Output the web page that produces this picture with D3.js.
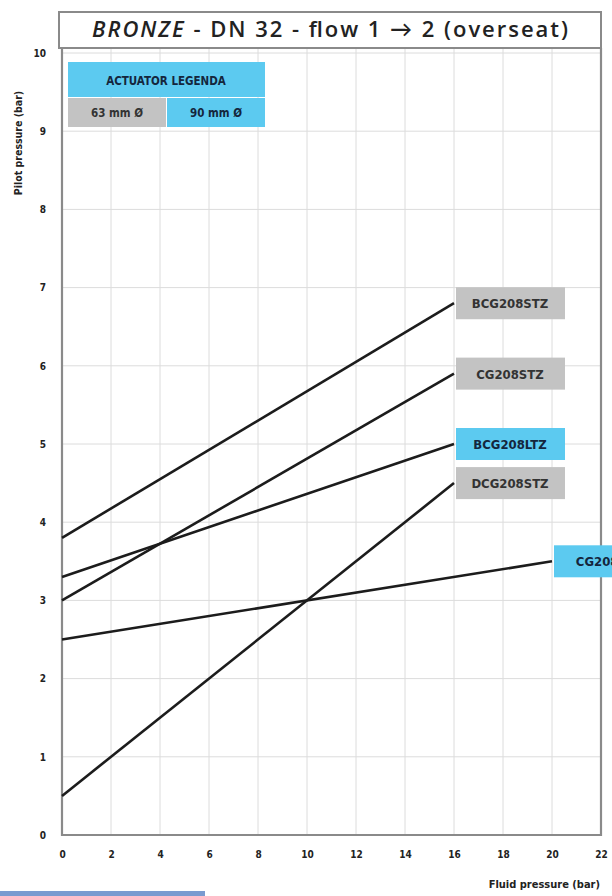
<!DOCTYPE html>
<html>
<head>
<meta charset="utf-8">
<script src="https://cdn.jsdelivr.net/npm/d3@7"></script>
<style>
  html, body { margin: 0; padding: 0; background: #fff; }
  svg { display: block; }
</style>
</head>
<body>
<svg id="chart" width="612" height="896"></svg>
<script>
// ---- data ----
const titleText = "BRONZE";
const titleRest = " - DN 32 - flow 1 \u2192 2 (overseat)";
const xLabel = "Fluid pressure (bar)";
const yLabel = "Pilot pressure (bar)";
const xTicks = [0, 2, 4, 6, 8, 10, 12, 14, 16, 18, 20, 22];
const yTicks = [0, 1, 2, 3, 4, 5, 6, 7, 8, 9, 10];
const seriesNames = ["BCG208STZ", "CG208STZ", "BCG208LTZ", "DCG208STZ", "CG208LTZ"];
const startFluid = [0, 0, 0, 0, 0];
const startPilot = [3.8, 3.0, 3.3, 0.5, 2.5];
const endFluid = [16, 16, 16, 16, 20];
const endPilot = [6.8, 5.9, 5.0, 4.5, 3.5];
const actuator = ["63", "63", "90", "63", "90"];
const legendTitle = "ACTUATOR LEGENDA";
const legendItems = ["63", "90"];
const legendLabels = ["63 mm \u00D8", "90 mm \u00D8"];

// ---- style ----
const BLUE = "#5ccaf0";
const GRAY = "#c3c3c3";
const colorFor = d3.scaleOrdinal().domain(legendItems).range([GRAY, BLUE]);
const textFor = d3.scaleOrdinal().domain(legendItems).range(["#333", "#14263d"]);
const FONT = "'DejaVu Sans', sans-serif";

const svg = d3.select("#chart");
const margin = { left: 62, right: 11, top: 53, bottom: 61 };
const W = 612, H = 896;
const x = d3.scaleLinear().domain([0, 22]).range([margin.left, W - margin.right]);
const y = d3.scaleLinear().domain([0, 10]).range([H - margin.bottom, margin.top]);

function cond(sel) {
  return sel.attr("font-family", FONT).attr("font-stretch", "condensed").attr("font-weight", "bold");
}

// grid
const grid = svg.append("g");
grid.selectAll("line.v").data(xTicks.slice(1, -1)).join("line")
  .attr("x1", d => x(d)).attr("x2", d => x(d))
  .attr("y1", y(10) - 5).attr("y2", y(0))
  .attr("stroke", "#dcdcdc").attr("stroke-width", 1);
grid.selectAll("line.h").data(yTicks.slice(1)).join("line")
  .attr("x1", x(0)).attr("x2", x(22))
  .attr("y1", d => y(d)).attr("y2", d => y(d))
  .attr("stroke", "#dcdcdc").attr("stroke-width", 1);

// title box
svg.append("rect").attr("x", 59).attr("y", 12).attr("width", x(22) - 59).attr("height", 36)
  .attr("fill", "#fff").attr("stroke", "#8a8a8a").attr("stroke-width", 2);
const title = svg.append("text").attr("x", 92).attr("y", 37)
  .attr("text-anchor", "start").attr("font-family", "'Open Sans', Lato, sans-serif")
  .attr("font-size", 22).attr("font-weight", 600).attr("fill", "#222")
  .attr("textLength", 476).attr("lengthAdjust", "spacing");
title.append("tspan").attr("font-style", "italic").text(titleText);
title.append("tspan").text(titleRest);

// plot frame
svg.append("path")
  .attr("d", `M${x(0)},48 V${y(0)} H${x(22)} V48`)
  .attr("fill", "none").attr("stroke", "#8a8a8a").attr("stroke-width", 2.2);

// axes
const xAxis = svg.append("g").attr("transform", `translate(0,${y(0)})`)
  .call(d3.axisBottom(x).tickValues(xTicks).tickSize(0).tickPadding(16));
const yAxis = svg.append("g").attr("transform", `translate(${x(0)},0)`)
  .call(d3.axisLeft(y).tickValues(yTicks).tickSize(0).tickPadding(16));
[xAxis, yAxis].forEach(a => {
  a.select(".domain").remove();
  cond(a.selectAll("text")).attr("font-size", 10).attr("fill", "#222");
});

// axis titles
cond(svg.append("text")).attr("x", x(22) - 1).attr("y", 888).attr("text-anchor", "end")
  .attr("font-size", 11).attr("fill", "#222").text(xLabel);
cond(svg.append("text")).attr("transform", "translate(22,143) rotate(-90)")
  .attr("text-anchor", "middle").attr("font-size", 10.5).attr("fill", "#222").text(yLabel);

// lines
const series = seriesNames.map((n, i) => ({
  name: n, act: actuator[i],
  pts: [[startFluid[i], startPilot[i]], [endFluid[i], endPilot[i]]]
}));
const line = d3.line().x(d => x(d[0])).y(d => y(d[1]));
svg.append("g").selectAll("path").data(series).join("path")
  .attr("d", d => line(d.pts)).attr("fill", "none")
  .attr("stroke", "#1c1c1c").attr("stroke-width", 2.6);

// end labels
const lab = svg.append("g").selectAll("g").data(series).join("g")
  .attr("transform", d => `translate(${x(d.pts[1][0]) + 2},${y(d.pts[1][1])})`);
lab.append("rect").attr("x", 0).attr("y", -16).attr("width", 109).attr("height", 32)
  .attr("fill", d => colorFor(d.act));
cond(lab.append("text")).attr("x", 54).attr("y", 5).attr("text-anchor", "middle")
  .attr("font-size", 13).attr("fill", d => textFor(d.act)).text(d => d.name);

// legend
const lg = svg.append("g").attr("transform", "translate(68,62)");
lg.append("rect").attr("width", 197).attr("height", 35).attr("fill", BLUE);
cond(lg.append("text")).attr("x", 98).attr("y", 23).attr("text-anchor", "middle")
  .attr("font-size", 11.5).attr("fill", "#14263d").text(legendTitle);
const cells = lg.selectAll("g.cell").data(legendItems).join("g")
  .attr("transform", (d, i) => `translate(${i * 99},36)`);
cells.append("rect").attr("width", 98).attr("height", 29)
  .attr("fill", d => colorFor(d));
cond(cells.append("text")).attr("x", 49).attr("y", 19).attr("text-anchor", "middle")
  .attr("font-size", 11.5).attr("fill", d => textFor(d)).text((d, i) => legendLabels[i]);

// decorative bar at bottom-left
svg.append("rect").attr("x", 0).attr("y", 891).attr("width", 205).attr("height", 5)
  .attr("fill", "#7a9bd0");
</script>
</body>
</html>
